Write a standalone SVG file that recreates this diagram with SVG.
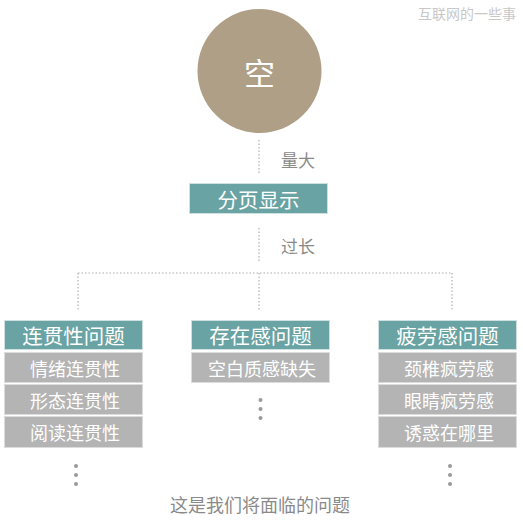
<svg xmlns="http://www.w3.org/2000/svg" width="523" height="523" viewBox="0 0 523 523">
<style>
text{font-family:"Noto Sans CJK SC","Noto Sans",sans-serif;text-anchor:middle;dominant-baseline:central}
.hd rect{fill:#6aa3a3;stroke:#cfe0e0;stroke-width:1}
.hd text{fill:#fff;font-size:20.5px}
.it rect{fill:#b4b4b4;stroke:#dcdcdc;stroke-width:1}
.it text{fill:#fff;font-size:18px}
.lbl{fill:#8a8a8a;font-size:17px}
.dot{fill:#9a9a9a}
#connectors line{stroke:#b0b0b0;stroke-width:1.2;stroke-dasharray:1.5 2}
</style>
<rect width="523" height="523" fill="#fff"/>
<text x="467" y="13" style="fill:#c8c8c8;font-size:14px">互联网的一些事</text>
<g id="connectors">
<line x1="259" y1="140" x2="259" y2="175"/>
<line x1="259" y1="228" x2="259" y2="263"/>
<line x1="78" y1="273" x2="452" y2="273"/>
<line x1="78" y1="273" x2="78" y2="311"/>
<line x1="259" y1="273" x2="259" y2="311"/>
<line x1="452" y1="273" x2="452" y2="311"/>
</g>
<g id="n-empty"><circle cx="259.5" cy="71" r="62" fill="#ae9f86"/><text x="259.5" y="71" style="fill:#fff;font-size:31px">空</text></g>
<text class="lbl" x="298" y="159">量大</text>
<text class="lbl" x="298" y="245">过长</text>
<g id="n-page" class="hd"><rect x="189.5" y="183.5" width="138" height="30"/><text x="258.5" y="198.5">分页显示</text></g>
<g id="n-coh" class="hd"><rect x="4.5" y="320.5" width="138" height="29"/><text x="73.5" y="335">连贯性问题</text></g>
<g id="n-exist" class="hd"><rect x="191.5" y="320.5" width="138" height="29"/><text x="260.5" y="335">存在感问题</text></g>
<g id="n-fat" class="hd"><rect x="378.5" y="320.5" width="138" height="29"/><text x="447.5" y="335">疲劳感问题</text></g>
<g id="n-c1" class="it"><rect x="4.5" y="352.5" width="138" height="30"/><text x="75" y="367.5">情绪连贯性</text></g>
<g id="n-c2" class="it"><rect x="4.5" y="384.5" width="138" height="30"/><text x="75" y="399.5">形态连贯性</text></g>
<g id="n-c3" class="it"><rect x="4.5" y="416.5" width="138" height="31"/><text x="75" y="432">阅读连贯性</text></g>
<g id="n-e1" class="it"><rect x="191.5" y="352.5" width="138" height="30"/><text x="262" y="367.5">空白质感缺失</text></g>
<g id="n-f1" class="it"><rect x="378.5" y="352.5" width="138" height="30"/><text x="449" y="367.5">颈椎疯劳感</text></g>
<g id="n-f2" class="it"><rect x="378.5" y="384.5" width="138" height="30"/><text x="449" y="399.5">眼睛疯劳感</text></g>
<g id="n-f3" class="it"><rect x="378.5" y="416.5" width="138" height="31"/><text x="449" y="432">诱惑在哪里</text></g>
<g class="dot">
<circle cx="260.5" cy="400" r="2"/><circle cx="260.5" cy="409" r="2"/><circle cx="260.5" cy="418" r="2"/>
<circle cx="76" cy="466" r="2"/><circle cx="76" cy="475" r="2"/><circle cx="76" cy="484" r="2"/>
<circle cx="450" cy="466" r="2"/><circle cx="450" cy="475" r="2"/><circle cx="450" cy="484" r="2"/>
</g>
<text x="260" y="504" style="fill:#8a8a8a;font-size:18px">这是我们将面临的问题</text>
</svg>
